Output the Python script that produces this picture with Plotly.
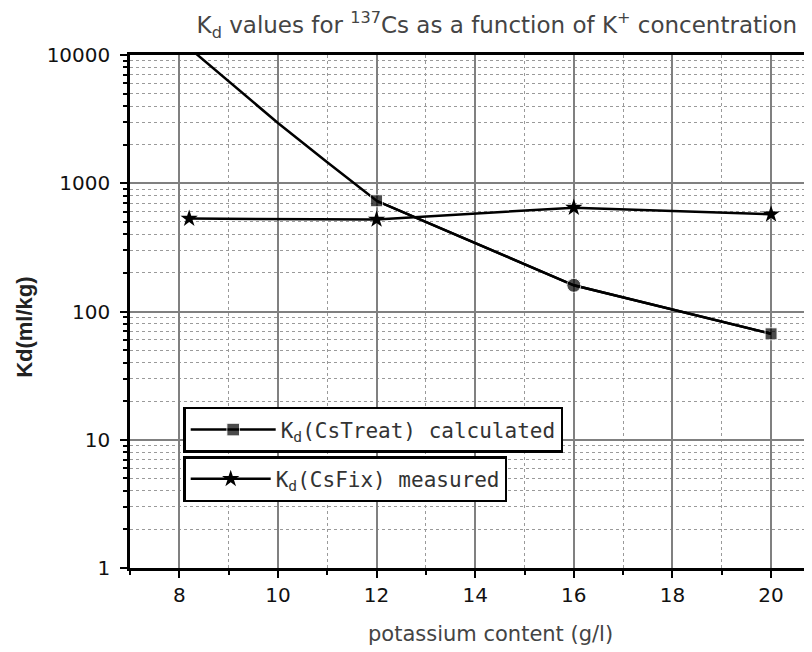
import plotly.graph_objects as go

# ---- data ----
calc_x = [8, 9, 10, 11, 12, 16, 20]
calc_y = [13200, 6200, 2950, 1460, 730, 160, 67]
calc_marked_x = [12, 16, 20]
calc_symbols = ["square", "circle", "square"]

meas_x = [8.2, 12, 16, 20]
meas_y = [530, 522, 645, 572]

x_tickvals = [8, 10, 12, 14, 16, 18, 20]
y_tickvals = [1, 10, 100, 1000, 10000]
y_ticktext = ["1", "10", "100", "1000", "10000"]

title_text = "K<sub>d</sub> values for <sup>137</sup>Cs as a function of K<sup>+</sup> concentration"
x_title = "potassium content (g/l)"
y_title = "Kd(ml/kg)"
name_calc = "K<sub>d</sub>(CsTreat) calculated"
name_meas = "K<sub>d</sub>(CsFix) measured"

marked_y = [y for x, y in zip(calc_x, calc_y) if x in calc_marked_x]

fig = go.Figure()
fig.add_trace(go.Scatter(x=calc_x, y=calc_y, mode="lines",
                         line=dict(color="black", width=2.5),
                         showlegend=False, hoverinfo="skip"))
fig.add_trace(go.Scatter(x=calc_marked_x, y=marked_y, mode="lines+markers",
                         name=name_calc,
                         line=dict(color="black", width=2.5),
                         marker=dict(symbol=calc_symbols, size=[12, 14, 12], color="black"),
                         legend="legend"))
fig.add_trace(go.Scatter(x=meas_x, y=meas_y, mode="lines+markers",
                         name=name_meas,
                         line=dict(color="black", width=2.5),
                         marker=dict(symbol="star", size=13, color="black"),
                         legend="legend2"))

grid_major = "#808080"
grid_minor = "#9a9a9a"
tickfont = dict(family="DejaVu Sans", size=20, color="#111")
legfont = dict(family="DejaVu Sans Mono", size=21, color="#333")

fig.update_layout(
    width=804, height=644,
    margin=dict(l=122, r=0, t=47, b=84, autoexpand=False),
    paper_bgcolor="white", plot_bgcolor="white",
    title=dict(text=title_text, x=0.608, xanchor="center", y=0.9736, yanchor="middle",
               font=dict(family="DejaVu Sans", size=23, color="#444")),
    xaxis=dict(range=[7.0, 20.83], tickvals=x_tickvals, automargin=False,
               showline=True, linecolor="black", linewidth=2.5, mirror=True,
               ticks="outside", ticklen=7, tickwidth=2, tickcolor="black",
               showgrid=True, gridcolor=grid_major, gridwidth=1.6,
               tickfont=tickfont, zeroline=False,
               minor=dict(dtick=1, tick0=7, ticks="outside", ticklen=4, tickwidth=2,
                          tickcolor="black", showgrid=True, gridcolor=grid_minor,
                          griddash="dot", gridwidth=1.3)),
    yaxis=dict(type="log", range=[0, 4], tickvals=y_tickvals, ticktext=y_ticktext,
               automargin=False, ticklabelstandoff=6,
               showline=True, linecolor="black", linewidth=2.5,
               ticks="outside", ticklen=7, tickwidth=2, tickcolor="black",
               showgrid=True, gridcolor=grid_major, gridwidth=1.6,
               tickfont=tickfont, zeroline=False,
               minor=dict(dtick="D1", ticks="outside", ticklen=4, tickwidth=2,
                          tickcolor="black", showgrid=True, gridcolor=grid_minor,
                          griddash="dot", gridwidth=1.3)),
    legend=dict(x=0.078, y=0.314, xanchor="left", yanchor="top",
                bgcolor="white", bordercolor="black", borderwidth=2.5,
                font=legfont, itemsizing="trace", itemwidth=85),
    legend2=dict(x=0.078, y=0.218, xanchor="left", yanchor="top",
                 bgcolor="white", bordercolor="black", borderwidth=2.5,
                 font=legfont, itemsizing="trace", itemwidth=80),
    annotations=[
        dict(text=x_title, xref="paper", yref="paper", x=0.528, y=-0.129,
             xanchor="center", yanchor="middle", showarrow=False,
             font=dict(family="DejaVu Sans", size=21, color="#444")),
        dict(text=y_title, xref="paper", yref="paper", x=-0.154, y=0.47,
             xanchor="center", yanchor="middle", showarrow=False, textangle=-90,
             font=dict(family="Liberation Sans", size=22, color="#222", weight="bold")),
    ],
)

fig.write_html("out.html")
